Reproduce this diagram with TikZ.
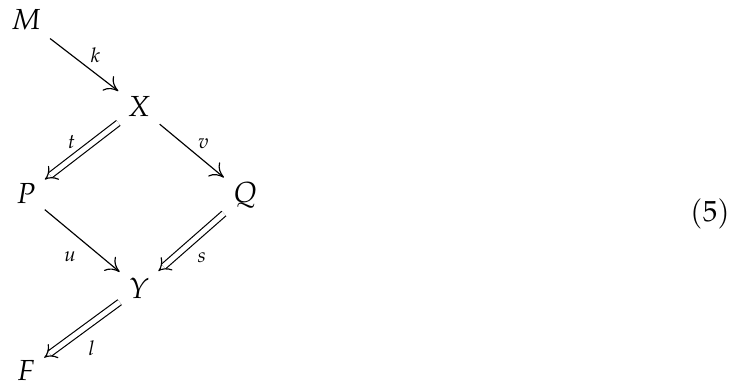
\documentclass[tikz,border=0pt]{standalone}
\usepackage{amsmath,amssymb}
\usepackage{mathpazo}
\usepackage{tikz}
\usetikzlibrary{positioning,arrows.meta,calc}

\begin{document}
\begin{tikzpicture}[x=0.0121cm,y=-0.0121cm,
  obj/.style={inner sep=3pt},
  map/.style={-{To[length=1.6mm,width=2.2mm]},line width=0.4pt},
  dmap/.style={double,double distance=1.7pt,line width=0.4pt,-{Implies}},
  lbl/.style={font=\scriptsize,auto,inner sep=2pt,yshift=-1.5pt}]
  \useasboundingbox (0,0) rectangle (732,387);
  % objects of the diamond
  \node[obj] (M) at (26,20) {$M$};
  \node[obj] (X) at (139,107) {$X$};
  \node[obj] (P) at (26,194) {$P$};
  \node[obj] (Q) at (245,195) {$Q$};
  \node[obj] (Y) at (139,288) {$Y$};
  \node[obj] (F) at (26,371) {$F$};
  % maps
  \draw[map] (M) -- node[lbl]{$k$} (X);
  \draw[dmap] (X) -- node[lbl,swap]{$t$} (P);
  \draw[map] (X) -- node[lbl]{$v$} (Q);
  \draw[map] (P) -- node[lbl,swap]{$u$} (Y);
  \draw[dmap] (Q) -- node[lbl]{$s$} (Y);
  \draw[dmap] (Y) -- node[lbl]{$l$} (F);
  % equation number
  \node (eqno) at (710,214) {$(5)$};
\end{tikzpicture}
\end{document}
